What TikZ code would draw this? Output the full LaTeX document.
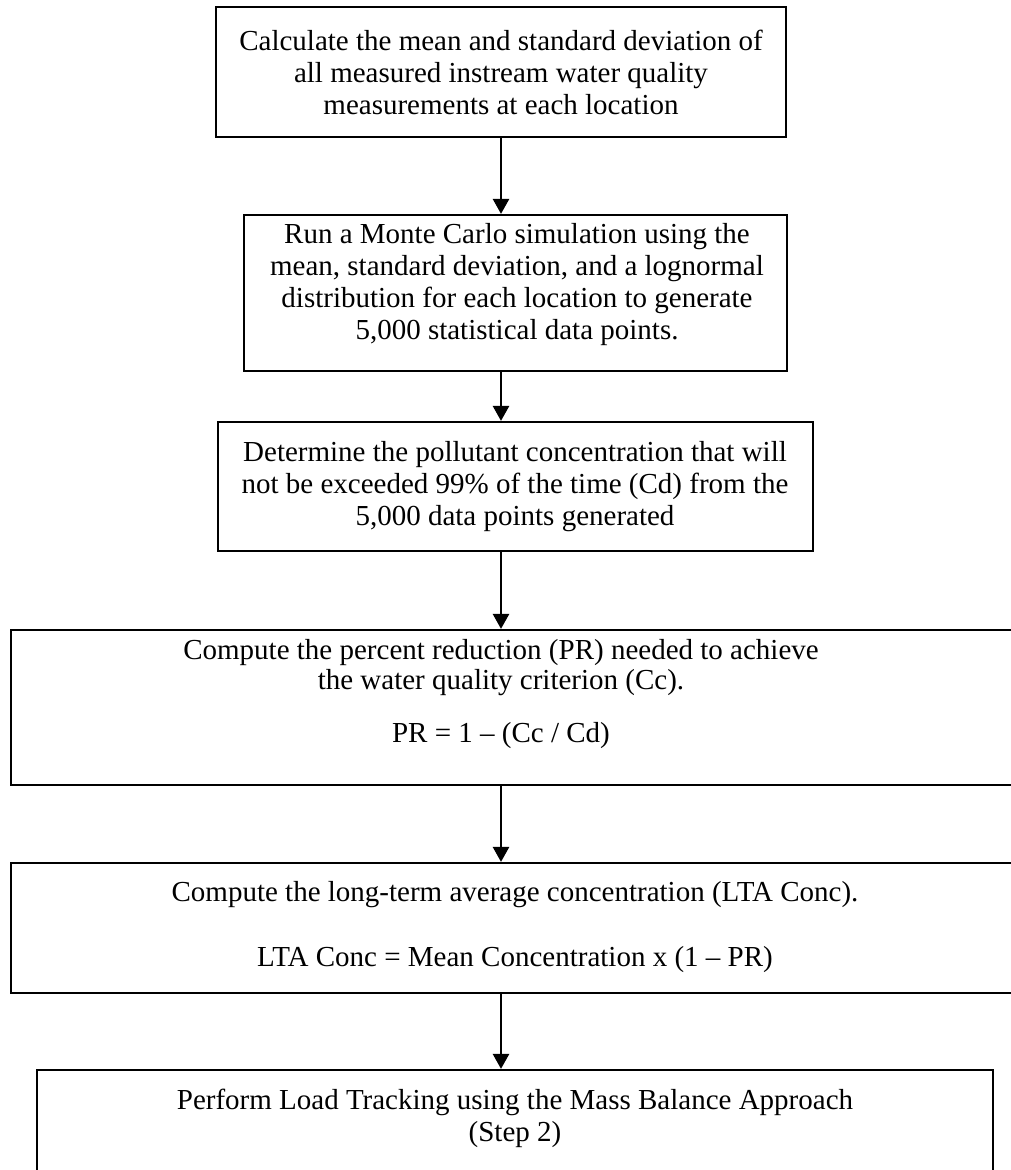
\documentclass[tikz,border=0pt]{standalone}
\usepackage{fontspec}
\setmainfont{Liberation Serif}
\usetikzlibrary{arrows.meta}
\begin{document}
\begin{tikzpicture}[x=1pt,y=-1pt,
  boxnode/.style={draw,line width=2.2pt,rectangle,inner sep=0pt},
  txt/.style={align=center,font=\fontsize{29}{32}\selectfont,inner sep=0pt},
  arr/.style={line width=2.6pt,-{Triangle[length=15pt,width=16pt]}}]
\useasboundingbox (0,0) rectangle (1011,1170);
\clip (0,0) rectangle (1011,1170);
% boxes
\node[boxnode,minimum width=570pt,minimum height=130pt] (b1) at (501,72) {};
\node[boxnode,minimum width=543pt,minimum height=156pt] (b2) at (515.5,293) {};
\node[boxnode,minimum width=595pt,minimum height=129pt] (b3) at (515.5,486.5) {};
\node[boxnode,minimum width=1009pt,minimum height=155pt] (b4) at (515.5,707.5) {};
\node[boxnode,minimum width=1009pt,minimum height=130pt] (b5) at (515.5,928) {};
\node[boxnode,minimum width=956pt,minimum height=130pt] (b6) at (515,1135) {};
% texts
\node[txt] (t1) at (501,72) {Calculate the mean and standard deviation of\\all measured instream water quality\\measurements at each location};
\node[txt] (t2) at (517,285) {Run a Monte Carlo simulation using the\\mean, standard deviation, and a lognormal\\distribution for each location to generate\\5,000 statistical data points.};
\node[txt] (t3) at (515,487) {Determine the pollutant concentration that will\\not be exceeded 99\% of the time (Cd) from the\\5,000 data points generated};
\node[txt,font=\fontsize{29}{30}\selectfont] (t4) at (501,694) {Compute the percent reduction (PR) needed to achieve\\the water quality criterion (Cc).\\[23pt]PR = 1 – (Cc / Cd)};
\node[txt] (t5) at (515,927) {Compute the long-term average concentration (LTA Conc).\\[33pt]LTA Conc = Mean Concentration x (1 – PR)};
\node[txt] (t6) at (515,1118) {Perform Load Tracking using the Mass Balance Approach\\(Step 2)};
% connectors
\draw[arr] (b1.south) -- (b2.north -| b1.south);
\draw[arr] (b2.south -| b1.south) -- (b3.north -| b1.south);
\draw[arr] (b3.south -| b1.south) -- (b4.north -| b1.south);
\draw[arr] (b4.south -| b1.south) -- (b5.north -| b1.south);
\draw[arr] (b5.south -| b1.south) -- (b6.north -| b1.south);
\end{tikzpicture}
\end{document}
